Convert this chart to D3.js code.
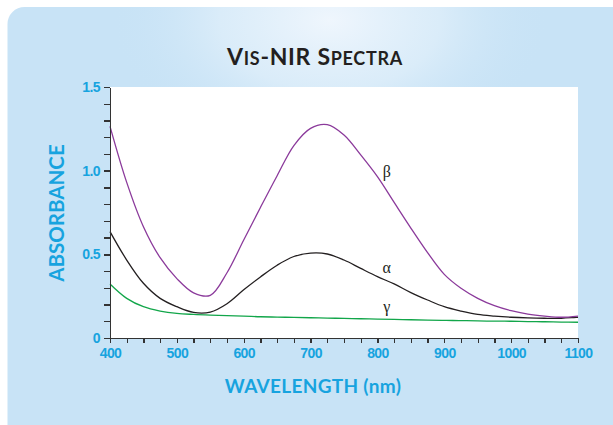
<!DOCTYPE html>
<head>
  <meta charset="utf-8">
  <style>
    body { margin: 0; background: #fff; }
    .axis path, .axis line { stroke: #333; stroke-width: 1.4px; shape-rendering: crispEdges; }
    .axis text {
      font-family: "Liberation Sans Narrow", "Liberation Sans", sans-serif;
      font-weight: bold; font-size: 14px; fill: #17a3df; letter-spacing: -0.6px;
    }
    .title { font-family: Lato, "Open Sans", sans-serif; font-weight: bold; fill: #231f20; }
    .axtitle { font-family: Lato, "Open Sans", sans-serif; font-weight: bold; fill: #17a3df; }
    .slabel { font-family: "Liberation Serif", "DejaVu Serif", serif; font-size: 16px; fill: #231f20; }
  </style>
  <script src="https://cdn.jsdelivr.net/npm/d3@7"></script>
</head>
<body>
  <script>
    // wavelength grid (nm)
    var wavelengths = [400, 425, 450, 475, 500, 525, 550, 575, 600, 625, 650, 675, 700, 725,
                       750, 775, 800, 825, 850, 875, 900, 925, 950, 975, 1000, 1025, 1050, 1075, 1100];

    var beta  = [1.265, 0.93, 0.665, 0.48, 0.355, 0.27, 0.255, 0.39, 0.586, 0.78, 0.97, 1.15, 1.253, 1.275,
                 1.213, 1.094, 0.964, 0.81, 0.657, 0.51, 0.38, 0.297, 0.237, 0.193, 0.163, 0.143, 0.131, 0.124, 0.131];
    var alpha = [0.636, 0.466, 0.327, 0.237, 0.187, 0.153, 0.155, 0.205, 0.288, 0.365, 0.435, 0.487, 0.507, 0.502,
                 0.466, 0.416, 0.367, 0.323, 0.271, 0.227, 0.187, 0.161, 0.141, 0.131, 0.124, 0.12, 0.118, 0.118, 0.124];
    var gamma = [0.323, 0.237, 0.187, 0.161, 0.147, 0.141, 0.137, 0.134, 0.131, 0.127, 0.125, 0.123, 0.121, 0.119,
                 0.117, 0.115, 0.113, 0.111, 0.109, 0.107, 0.105, 0.104, 0.102, 0.101, 0.1, 0.098, 0.097, 0.095, 0.094];

    var seriesNames  = ["β", "α", "γ"];
    var seriesColors = ["#8b3a9b", "#231f20", "#12a64a"];
    var labelNm  = [814, 814, 814];
    var labelVal = [0.962, 0.39, 0.157];

    var xTicks = d3.range(400, 1101, 25);
    var xLabels = [400, 500, 600, 700, 800, 900, 1000, 1100];
    var yTicks = d3.range(0, 16).map(function(i) { return i / 10; });
    var yLabels = { 0: "0", 0.5: "0.5", 1: "1.0", 1.5: "1.5" };

    var w = 613, h = 425;
    var margin = { left: 110, top: 87, right: 35, bottom: 87 };
    var pw = w - margin.left - margin.right;
    var ph = h - margin.top - margin.bottom;

    var svg = d3.select("body").append("svg")
      .attr("width", w)
      .attr("height", h);

    var defs = svg.append("defs");
    var glow = defs.append("radialGradient")
      .attr("id", "glow")
      .attr("gradientUnits", "userSpaceOnUse")
      .attr("cx", 0).attr("cy", 0).attr("r", 1)
      .attr("gradientTransform", "translate(330,20) scale(220,140)");
    glow.append("stop").attr("offset", "0").attr("stop-color", "#eff6fd").attr("stop-opacity", 1);
    glow.append("stop").attr("offset", "0.5").attr("stop-color", "#e0effa").attr("stop-opacity", 0.75);
    glow.append("stop").attr("offset", "1").attr("stop-color", "#c8e3f6").attr("stop-opacity", 0);

    // panel
    svg.append("rect")
      .attr("x", 7.5).attr("y", 7).attr("width", 640).attr("height", 460)
      .attr("rx", 17).attr("fill", "#c8e3f6");
    svg.append("rect")
      .attr("x", 7.5).attr("y", 7).attr("width", 640).attr("height", 460)
      .attr("rx", 17).attr("fill", "url(#glow)");

    var xScale = d3.scaleLinear().domain([400, 1100]).range([0, pw]);
    var yScale = d3.scaleLinear().domain([0, 1.5]).range([ph, 0]);

    var g = svg.append("g").attr("transform", "translate(" + margin.left + "," + margin.top + ")");

    g.append("rect")
      .attr("x", 0).attr("y", 0)
      .attr("width", pw).attr("height", ph)
      .attr("fill", "#fff");

    // title (hand made small caps)
    var title = svg.append("text").attr("class", "title")
      .attr("x", 315).attr("y", 65).attr("text-anchor", "middle")
      .attr("letter-spacing", "0.7px");
    [["V", 23], ["IS", 18], ["-NIR ", 23], ["S", 23], ["PECTRA", 18]].forEach(function(p) {
      title.append("tspan").attr("font-size", p[1] + "px").text(p[0]);
    });

    var line = d3.line()
      .x(function(d) { return xScale(d[0]); })
      .y(function(d) { return yScale(d[1]); })
      .curve(d3.curveCatmullRom.alpha(0.5));

    [gamma, alpha, beta].forEach(function(vals, k) {
      var idx = 2 - k;
      var pts = wavelengths.map(function(nm, i) { return [nm, vals[i]]; });
      g.append("path")
        .datum(pts)
        .attr("d", line)
        .attr("fill", "none")
        .attr("stroke", seriesColors[idx])
        .attr("stroke-width", 1.3);
    });

    g.selectAll("text.slabel")
      .data(seriesNames)
      .enter()
      .append("text")
      .attr("class", "slabel")
      .attr("x", function(d, i) { return xScale(labelNm[i]); })
      .attr("y", function(d, i) { return yScale(labelVal[i]); })
      .attr("text-anchor", "middle")
      .text(function(d) { return d; });

    // axes
    var xAxis = d3.axisBottom(xScale)
      .tickValues(xTicks)
      .tickSize(5)
      .tickSizeOuter(0)
      .tickPadding(5)
      .tickFormat(function(d) { return xLabels.indexOf(d) >= 0 ? d : ""; });
    g.append("g").attr("class", "axis")
      .attr("transform", "translate(0," + ph + ")")
      .call(xAxis);

    var yAxis = d3.axisLeft(yScale)
      .tickValues(yTicks)
      .tickSize(6)
      .tickSizeOuter(0)
      .tickPadding(4)
      .tickFormat(function(d) {
        var k = Math.round(d * 10) / 10;
        return yLabels[k] !== undefined ? yLabels[k] : "";
      });
    g.append("g").attr("class", "axis").call(yAxis);

    svg.append("text").attr("class", "axtitle")
      .attr("transform", "translate(64,213) rotate(-90)")
      .attr("text-anchor", "middle")
      .attr("font-size", "20.5px")
      .text("ABSORBANCE");

    svg.append("text").attr("class", "axtitle")
      .attr("x", 313).attr("y", 393)
      .attr("text-anchor", "middle")
      .attr("font-size", "19px")
      .attr("letter-spacing", "0.3px")
      .text("WAVELENGTH (nm)");
  </script>
</body>
